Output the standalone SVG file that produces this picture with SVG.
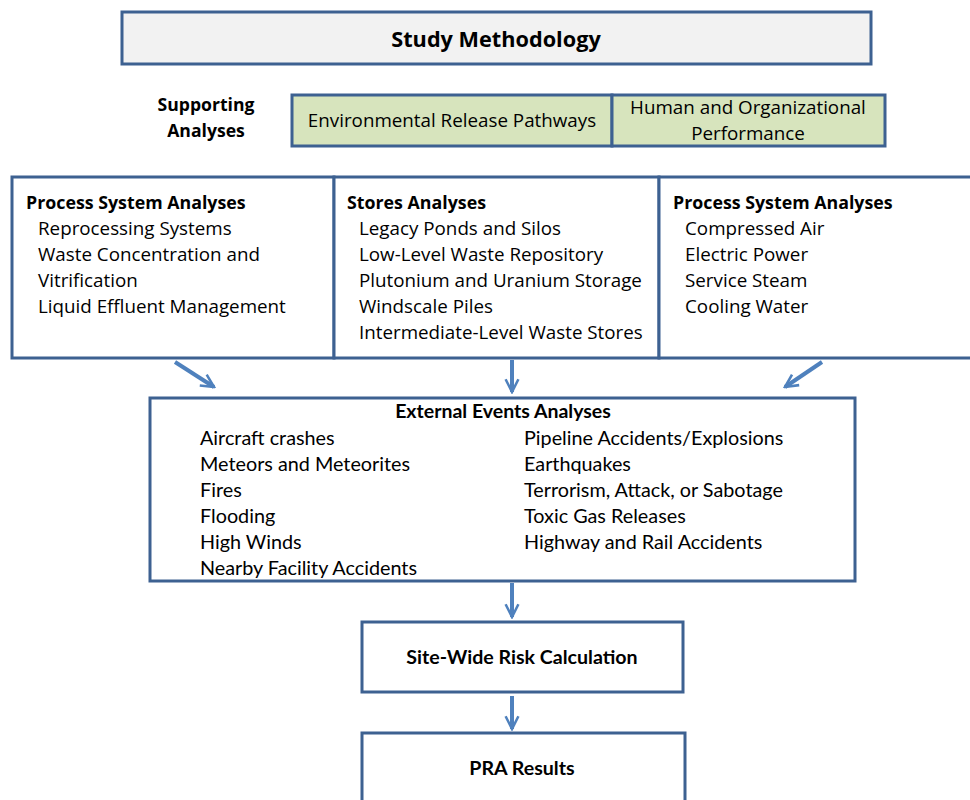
<svg xmlns="http://www.w3.org/2000/svg" width="970" height="800" viewBox="0 0 970 800">
<defs>
<style>
.box{fill:#ffffff;stroke:#3d6191;stroke-width:3}
.seg{font-family:"Open Sans","Noto Sans",sans-serif;font-size:18.8px;fill:#000}
.segb{font-family:"Open Sans","Noto Sans",sans-serif;font-size:17.8px;font-weight:bold;fill:#000}
.cal{font-family:Lato,"Liberation Sans",sans-serif;font-size:19.8px;fill:#000}
.calb{font-family:Lato,"Liberation Sans",sans-serif;font-weight:bold;fill:#000}
.arr{stroke:#4f81bd;stroke-width:4;fill:none}
</style>
<marker id="ah" viewBox="0 0 10 10" refX="9" refY="5" markerWidth="4" markerHeight="4" orient="auto" markerUnits="strokeWidth">
<path d="M1,1 L9,5 L1,9" fill="none" stroke="#4f81bd" stroke-width="1.6"/>
</marker>
</defs>
<rect width="970" height="800" fill="#ffffff"/>

<g id="study">
<rect x="122" y="12" width="749" height="52" fill="#f2f2f2" stroke="#3d6191" stroke-width="3"/>
<text x="496" y="47" class="segb" style="font-size:21.7px" text-anchor="middle">Study Methodology</text>
</g>

<g id="supporting">
<text x="206" y="111" class="segb" style="font-size:17.6px" text-anchor="middle">Supporting</text>
<text x="206" y="137" class="segb" style="font-size:17.6px" text-anchor="middle">Analyses</text>
</g>

<g id="env">
<rect x="292" y="95" width="320" height="51" fill="#d7e4bd" stroke="#3d6191" stroke-width="3"/>
<text x="452" y="127" class="seg" text-anchor="middle">Environmental Release Pathways</text>
</g>
<g id="human">
<rect x="612" y="95" width="273" height="51" fill="#d7e4bd" stroke="#3d6191" stroke-width="3"/>
<text x="748" y="114" class="seg" text-anchor="middle">Human and Organizational</text>
<text x="748" y="140" class="seg" text-anchor="middle">Performance</text>
</g>

<g id="proc1">
<rect x="12" y="177" width="322" height="181" class="box"/>
<text x="26" y="209" class="segb">Process System Analyses</text>
<text x="38" y="235" class="seg">Reprocessing Systems</text>
<text x="38" y="261" class="seg">Waste Concentration and</text>
<text x="38" y="287" class="seg">Vitrification</text>
<text x="38" y="313" class="seg">Liquid Effluent Management</text>
</g>

<g id="stores">
<rect x="334" y="177" width="325" height="181" class="box"/>
<text x="347" y="209" class="segb">Stores Analyses</text>
<text x="359" y="235" class="seg">Legacy Ponds and Silos</text>
<text x="359" y="261" class="seg">Low-Level Waste Repository</text>
<text x="359" y="287" class="seg">Plutonium and Uranium Storage</text>
<text x="359" y="313" class="seg">Windscale Piles</text>
<text x="359" y="339" class="seg">Intermediate-Level Waste Stores</text>
</g>

<g id="proc2">
<rect x="659" y="177" width="320" height="181" class="box"/>
<text x="673" y="209" class="segb">Process System Analyses</text>
<text x="685" y="235" class="seg">Compressed Air</text>
<text x="685" y="261" class="seg">Electric Power</text>
<text x="685" y="287" class="seg">Service Steam</text>
<text x="685" y="313" class="seg">Cooling Water</text>
</g>

<g id="external">
<rect x="150" y="398" width="705" height="183" class="box"/>
<text x="503" y="418" class="calb" style="font-size:19.5px" text-anchor="middle">External Events Analyses</text>
<text x="200" y="445" class="cal">Aircraft crashes</text>
<text x="200" y="471" class="cal">Meteors and Meteorites</text>
<text x="200" y="497" class="cal">Fires</text>
<text x="200" y="523" class="cal">Flooding</text>
<text x="200" y="549" class="cal">High Winds</text>
<text x="200" y="575" class="cal">Nearby Facility Accidents</text>
<text x="524" y="445" class="cal">Pipeline Accidents/Explosions</text>
<text x="524" y="471" class="cal">Earthquakes</text>
<text x="524" y="497" class="cal">Terrorism, Attack, or Sabotage</text>
<text x="524" y="523" class="cal">Toxic Gas Releases</text>
<text x="524" y="549" class="cal">Highway and Rail Accidents</text>
</g>

<g id="risk">
<rect x="362" y="622" width="321" height="70" class="box"/>
<text x="522" y="664" class="calb" style="font-size:19.6px" text-anchor="middle">Site-Wide Risk Calculation</text>
</g>

<g id="pra">
<rect x="362" y="733" width="323" height="80" class="box"/>
<text x="522" y="775" class="calb" style="font-size:19.6px" text-anchor="middle">PRA Results</text>
</g>

<g id="connectors">
<line x1="175" y1="362" x2="214" y2="387" class="arr" marker-end="url(#ah)"/>
<line x1="512" y1="360" x2="512" y2="392" class="arr" marker-end="url(#ah)"/>
<line x1="822" y1="362" x2="785" y2="387" class="arr" marker-end="url(#ah)"/>
<line x1="512" y1="583" x2="512" y2="617" class="arr" marker-end="url(#ah)"/>
<line x1="512" y1="696" x2="512" y2="729" class="arr" marker-end="url(#ah)"/>
</g>
</svg>
